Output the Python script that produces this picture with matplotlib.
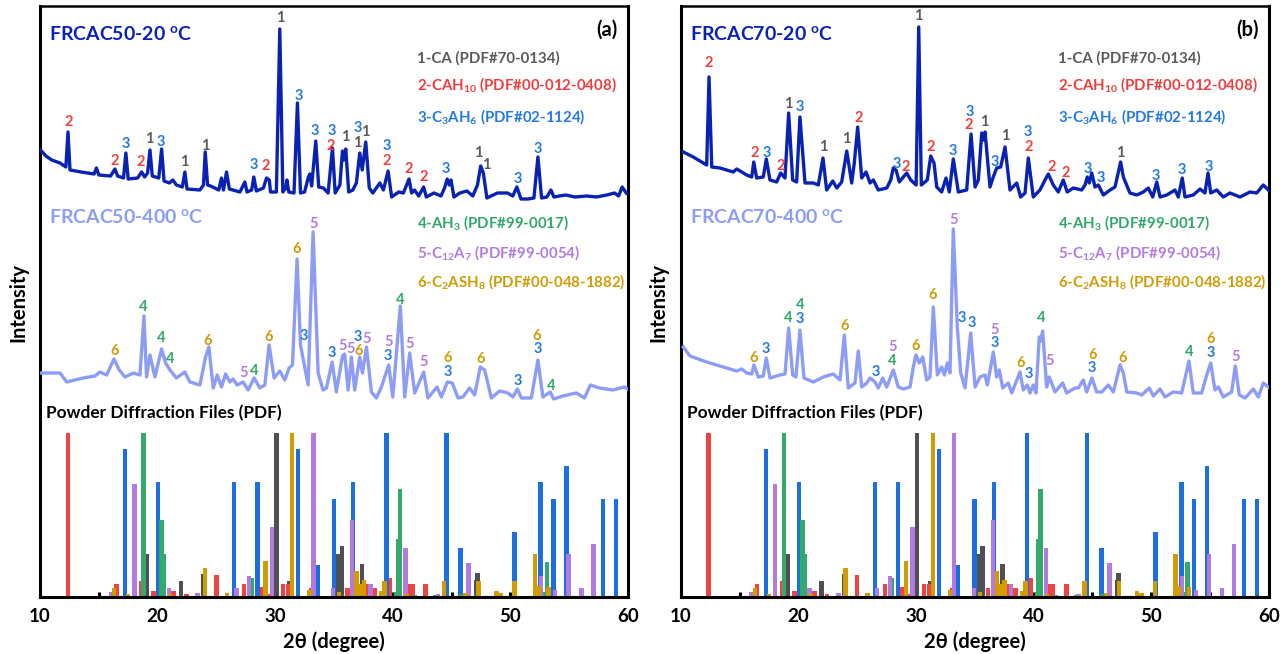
import numpy as np
import matplotlib
matplotlib.use("Agg")
import matplotlib.pyplot as plt

plt.rcParams['font.family'] = ['Lato', 'DejaVu Sans']
plt.rcParams['font.weight'] = 'bold'
plt.rcParams['mathtext.fontset'] = 'custom'
plt.rcParams['mathtext.rm'] = 'Lato:bold'
plt.rcParams['mathtext.it'] = 'Lato:bold'
plt.rcParams['mathtext.bf'] = 'Lato:bold'
plt.rcParams['mathtext.default'] = 'rm'

# ---------------- data: XRD patterns (intensity, arbitrary units) ----------------
a20_x = [10.05, 10.5, 11.0, 11.7, 12.2, 12.38, 12.55, 13.5, 14.6, 14.8,
         15.0, 16.0, 16.37, 16.6, 17.1, 17.3, 17.5, 18.3, 18.64, 18.9,
         19.15, 19.35, 19.55, 20.1, 20.34, 20.55, 21.0, 21.3, 21.6, 22.1,
         22.32, 22.5, 23.6, 23.9, 24.05, 24.25, 24.5, 25.2, 25.43, 25.6,
         25.86, 26.1, 27.0, 27.42, 27.6, 28.0, 28.18, 28.4, 29.0, 29.26,
         29.5, 29.6, 30.1, 30.39, 30.65, 30.9, 31.0, 31.15, 31.6, 31.89,
         32.15, 32.5, 32.8, 32.94, 33.1, 33.45, 33.7, 34.1, 34.5, 34.87,
         35.1, 35.5, 35.72, 35.85, 36.0, 36.25, 36.6, 36.9, 37.19, 37.4,
         37.7, 38.0, 38.3, 38.9, 39.2, 39.6, 39.9, 40.5, 40.9, 41.38,
         41.6, 41.85, 42.2, 42.62, 42.85, 43.5, 44.1, 44.4, 44.63, 44.8,
         44.95, 45.2, 45.7, 46.3, 46.8, 47.2, 47.47, 47.7, 48.0, 48.9,
         49.76, 50.2, 50.55, 50.9, 51.5, 52.0, 52.34, 52.65, 53.1, 53.45,
         53.7, 54.17, 54.7, 55.5, 56.5, 57.3, 58.2, 58.86, 59.2, 59.5,
         59.85]
a20_y = [47, 41, 37, 34, 30, 65, 27, 25, 23, 29,
         22, 21, 28, 21, 19, 44, 18, 19, 25, 20,
         24, 47, 21, 19, 48, 16, 14, 17, 12, 10,
         25, 8, 7, 12, 45, 12, 11, 7, 19, 7,
         25, 8, 5, 15, 5, 7, 20, 6, 9, 19,
         17, 5, 5, 168, 5, 9, 17, 5, 4, 94,
         4, 5, 19, 23, 11, 56, 10, 9, 4, 49,
         4, 12, 46, 37, 48, 5, 7, 14, 44, 27,
         55, 9, 4, 14, 7, 26, 0, 5, 4, 18,
         4, 7, 1, 10, 0, 4, 1, 9, 18, 12,
         17, 0, 4, 6, 1, 12, 31, 24, -1, 4,
         4, 1, 10, -2, -2, -1, 40, -1, 0, 7,
         0, 1, 2, 0, 1, 0, 2, 4, 1, 10,
         4]

a400_x = [10.14, 11.7, 12.27, 13.68, 14.67, 15.1, 15.67, 16.29, 16.74, 17.22,
          17.93, 18.5, 18.84, 19.06, 19.35, 19.77, 20.34, 20.68, 21.05, 21.6,
          22.32, 22.74, 23.6, 24.08, 24.36, 24.73, 25.07, 25.43, 25.78, 26.14,
          26.42, 26.76, 27.27, 27.7, 28.21, 28.69, 29.12, 29.48, 29.91, 30.39,
          30.82, 31.18, 31.47, 31.86, 32.15, 32.51, 32.8, 33.22, 33.65, 34.07,
          34.36, 34.84, 35.2, 35.72, 35.91, 36.2, 36.48, 36.76, 37.19, 37.42,
          37.76, 38.18, 38.6, 39.03, 39.65, 40.0, 40.64, 41.01, 41.44, 41.86,
          42.63, 42.99, 43.76, 44.13, 44.64, 45.06, 45.54, 45.96, 46.53, 46.96,
          47.44, 47.81, 48.38, 49.08, 49.79, 50.22, 50.59, 50.93, 51.78, 52.34,
          52.76, 53.39, 53.67, 54.46, 55.6, 56.3, 56.79, 57.58, 58.71, 59.7,
          59.95]
a400_y = [25, 25, 16, 20, 22, 26, 23, 39, 28, 21,
          25, 23, 82, 21, 43, 21, 49, 35, 28, 20,
          26, 16, 13, 41, 51, 10, 23, 11, 24, 16,
          19, 13, 16, 8, 20, 10, 13, 53, 20, 27,
          18, 30, 33, 139, 53, 31, 13, 166, 25, 8,
          10, 36, 6, 42, 44, 8, 41, 8, 41, 25,
          51, 6, 0, 11, 33, 1, 92, 1, 45, 5,
          26, 0, 11, 1, 16, 15, 0, 1, 10, 3,
          31, 28, 0, 7, 5, 1, 9, 0, 0, 38,
          1, 6, -1, 2, 5, 0, 13, 10, 8, 11,
          9]

b20_x = [10.22, 11.07, 11.92, 12.21, 12.41, 12.64, 13.34, 14.47, 14.76, 15.19,
         15.61, 16.04, 16.21, 16.46, 17.02, 17.28, 17.59, 18.16, 18.5, 18.87,
         19.18, 19.52, 19.86, 20.14, 20.57, 21.28, 21.7, 22.1, 22.41, 22.93,
         23.27, 23.69, 24.12, 24.54, 24.76, 25.05, 25.39, 25.76, 26.1, 26.38,
         26.8, 27.52, 27.86, 28.08, 28.31, 28.59, 28.93, 29.22, 29.56, 30.02,
         30.24, 30.46, 30.97, 31.26, 31.54, 31.77, 32.19, 32.56, 32.84, 33.18,
         33.61, 34.32, 34.69, 35.03, 35.31, 35.6, 35.73, 35.88, 36.3, 36.58,
         36.87, 37.21, 37.58, 38.0, 38.57, 38.91, 39.28, 39.56, 39.98, 40.55,
         40.98, 41.26, 41.68, 42.11, 42.53, 42.87, 43.38, 44.1, 44.38, 44.57,
         44.74, 44.95, 45.23, 45.51, 45.94, 46.51, 46.93, 47.41, 47.64, 48.2,
         48.78, 49.34, 49.76, 50.14, 50.48, 50.76, 51.33, 52.03, 52.31, 52.65,
         52.88, 53.59, 54.16, 54.58, 54.84, 55.07, 55.58, 56.14, 56.71, 57.56,
         58.41, 58.98, 59.54, 59.97]
b20_y = [45, 40, 34, 32, 120, 30, 29, 25, 28, 25,
         22, 20, 35, 19, 20, 38, 17, 15, 24, 19,
         84, 17, 15, 80, 14, 14, 12, 39, 7, 16,
         9, 15, 46, 14, 34, 70, 19, 25, 14, 17,
         7, 9, 17, 29, 27, 15, 20, 24, 17, 12,
         170, 12, 17, 41, 34, 10, 5, 19, 5, 38,
         5, 7, 63, 10, 17, 64, 57, 65, 10, 20,
         29, 30, 50, 7, 14, 0, 4, 39, 0, 7,
         17, 23, 12, 5, 17, 5, 9, 7, 12, 20,
         14, 24, 10, 12, 2, 7, 10, 35, 20, 4,
         2, 5, 9, 0, 15, 0, 2, 7, 0, 19,
         0, 2, 8, 4, 24, 4, 7, 0, 4, 0,
         5, 4, 12, 7]

b400_x = [10.22, 10.79, 12.21, 13.62, 14.76, 15.19, 15.61, 16.04, 16.23, 16.6,
          17.02, 17.28, 17.59, 18.44, 18.87, 19.18, 19.52, 19.8, 20.14, 20.48,
          21.28, 22.13, 22.98, 23.55, 23.91, 24.25, 24.82, 25.1, 25.39, 25.82,
          26.1, 26.52, 26.8, 27.18, 27.52, 28.08, 28.5, 28.93, 29.5, 29.78,
          30.01, 30.29, 30.58, 30.92, 31.2, 31.48, 31.82, 32.19, 32.42, 32.67,
          32.9, 33.18, 33.52, 33.81, 34.18, 34.66, 35.03, 35.45, 35.88, 36.07,
          36.36, 36.58, 36.87, 37.09, 37.38, 37.86, 38.15, 38.85, 39.13, 39.47,
          39.7, 39.98, 40.21, 40.49, 40.6, 40.78, 41.12, 41.34, 41.83, 42.48,
          42.82, 43.53, 43.81, 44.24, 44.52, 44.97, 45.37, 45.8, 46.36, 46.79,
          47.36, 47.64, 47.93, 48.78, 49.2, 49.85, 50.19, 50.76, 51.18, 51.89,
          52.6, 53.22, 53.59, 54.3, 54.73, 55.07, 55.43, 55.72, 56.14, 56.85,
          57.16, 57.5, 57.99, 58.69, 59.12, 59.54, 59.97]
b400_y = [51, 42, 36, 31, 27, 29, 25, 24, 33, 21,
          22, 40, 20, 23, 24, 70, 23, 21, 68, 20,
          16, 21, 24, 18, 63, 10, 15, 47, 11, 15,
          20, 16, 10, 20, 11, 28, 11, 9, 11, 31,
          43, 35, 41, 18, 21, 91, 23, 31, 23, 35,
          25, 169, 71, 25, 10, 65, 11, 21, 23, 13,
          31, 46, 21, 28, 10, 15, 5, 26, 8, 13,
          5, 13, 5, 61, 57, 67, 11, 21, 6, 15,
          5, 10, 10, 18, 6, 20, 6, 6, 13, 6,
          33, 25, 6, 5, 3, 10, 2, 9, 1, 6,
          5, 37, 5, 5, 23, 35, 8, 11, 1, 6,
          32, 3, 0, 9, 1, 15, 11]

# ---------------- data: reference powder diffraction files (relative intensity %) ----------------
pdf_CA_x = [19.09, 21.98, 23.88, 30.1, 31.21, 35.38, 35.68, 37.38, 47.1, 47.21]
pdf_CA_h = [26, 10, 14, 100, 9.5, 26, 31, 20, 10.6, 14.6]
pdf_CAH10_x = [12.38, 16.5, 18.64, 19.66, 21.36, 22.46, 25.0, 27.36, 28.83, 29.4,
               30.67, 31.13, 33.05, 36.14, 37.9, 38.46, 39.74, 41.44, 41.67, 42.8]
pdf_CAH10_h = [100, 8, 10, 3.5, 3.5, 1.6, 13.6, 8, 6, 2,
               8, 8, 5.5, 5.5, 8, 5.5, 11.6, 8, 8, 8]
pdf_C3AH6_x = [17.25, 20.05, 26.5, 28.5, 31.95, 33.59, 34.98, 36.62, 39.45, 44.55,
               45.77, 50.36, 52.57, 53.67, 54.77, 57.89, 58.99]
pdf_C3AH6_h = [90, 70, 70, 70, 90, 19.7, 60, 70, 100, 100,
               30, 39.6, 70, 60, 79.7, 60, 60]
pdf_AH3_x = [18.8, 20.34, 20.54, 27.98, 40.3, 40.44, 40.61, 41.86, 43.6, 45.82, 52.97, 53.1]
pdf_AH3_h = [100, 47, 26, 11.6, 3, 35.4, 65.9, 1.4, 1.2, 2, 3, 21.5]
pdf_C12A7_x = [16.03, 18.04, 20.96, 23.4, 26.7, 27.78, 29.71, 33.25, 34.92, 36.54,
               38.1, 41.07, 43.84, 46.45, 52.62, 53.81, 54.94, 56.05, 57.07]
pdf_C12A7_h = [3, 69, 5.3, 2.6, 5.5, 12.6, 42.7, 100, 5.5, 46.7,
               8, 30, 1.8, 20.7, 13, 4.5, 26, 5.5, 32.5]
pdf_C2ASH8_x = [16.3, 17.5, 21.04, 23.03, 24.02, 25.9, 29.17, 31.44, 32.9, 35.43,
                36.9, 37.27, 37.53, 39.03, 39.3, 41.15, 44.35, 46.17, 47.27, 48.8,
                49.17, 50.33, 52.08, 52.37, 53.22]
pdf_C2ASH8_h = [5.3, 1.6, 2, 0.6, 17.7, 2.2, 21.7, 100, 4.5, 3,
                15.6, 8.1, 10.6, 3.9, 9.5, 1.8, 9.5, 2.4, 9.5, 3.5,
                2.4, 9.5, 26, 7, 6]

# ---------------- data: peak labels (2theta, height, phase number) ----------------
a20_lab_x = [30.39, 32.0, 12.4, 17.3, 19.26, 20.25, 16.37, 18.55, 22.23, 24.05,
             28.18, 29.2, 33.39, 34.84, 34.73, 36.0, 36.99, 37.0, 37.67, 39.48,
             39.48, 41.35, 42.6, 44.55, 47.3, 47.95, 50.64, 52.34]
a20_lab_y = [579, 501, 475, 453, 458, 455, 436, 435, 435, 451,
             432, 431, 466, 466, 451, 460, 454, 469, 465, 451,
             436, 428, 420, 428, 444, 432, 418, 448]
a20_lab_t = ['1', '3', '2', '3', '1', '3', '2', '2', '1', '1',
             '3', '2', '3', '3', '2', '1', '1', '3', '1', '3',
             '2', '2', '2', '3', '1', '1', '3', '3']

a400_lab_x = [16.31, 18.78, 20.31, 21.05, 24.22, 27.27, 28.18, 29.48, 31.78, 32.43,
              33.28, 34.84, 35.72, 36.4, 37.13, 37.05, 37.81, 39.6, 39.6, 40.59,
              41.44, 42.62, 44.69, 44.69, 47.47, 50.64, 52.25, 52.34, 53.47]
a400_lab_y = [246, 290, 259, 238, 256, 224, 226, 260, 348, 261,
              373, 244, 251, 248, 246, 260, 258, 255, 241, 297,
              253, 235, 239, 225, 238, 216, 261, 248, 211]
a400_lab_t = ['6', '4', '4', '4', '6', '5', '4', '6', '6', '3',
              '5', '3', '5', '5', '6', '3', '5', '5', '3', '4',
              '5', '5', '6', '3', '6', '3', '6', '3', '4']

b20_lab_x = [12.41, 30.24, 16.26, 17.31, 18.5, 19.15, 20.14, 22.13, 24.12, 25.1,
             28.42, 29.16, 31.26, 33.18, 34.6, 34.52, 35.85, 36.73, 37.58, 39.56,
             39.56, 41.55, 42.74, 44.58, 45.71, 47.41, 50.42, 52.6, 54.87]
b20_lab_y = [534, 581, 444, 444, 431, 493, 490, 450, 458, 479,
             433, 430, 450, 446, 485, 472, 475, 435, 461, 465,
             450, 430, 424, 428, 419, 444, 421, 427, 430]
b20_lab_t = ['2', '1', '2', '3', '2', '1', '3', '1', '1', '2',
             '3', '2', '2', '3', '3', '2', '1', '3', '1', '3',
             '2', '2', '2', '3', '3', '1', '3', '3', '3']

b400_lab_x = [16.23, 17.28, 19.1, 20.14, 20.14, 23.97, 26.58, 27.99, 27.99, 29.95,
              31.43, 33.18, 33.89, 34.74, 36.67, 36.67, 38.94, 39.62, 40.61, 41.4,
              45.0, 45.0, 47.55, 53.22, 55.07, 55.07, 57.19]
b400_lab_y = [239, 248, 279, 278, 292, 271, 225, 250, 236, 251,
              302, 377, 279, 274, 267, 254, 234, 223, 279, 236,
              242, 229, 239, 245, 258, 244, 240]
b400_lab_t = ['6', '3', '4', '3', '4', '6', '3', '5', '4', '6',
              '6', '5', '3', '3', '5', '3', '6', '3', '4', '5',
              '6', '3', '6', '4', '6', '3', '5']

legend_top = ['1-CA (PDF#70-0134)', '2-CAH$_{10}$ (PDF#00-012-0408)', '3-C$_3$AH$_6$ (PDF#02-1124)']
legend_mid = ['4-AH$_3$ (PDF#99-0017)', '5-C$_{12}$A$_7$ (PDF#99-0054)', '6-C$_2$ASH$_8$ (PDF#00-048-1882)']
x_ticks = [10, 20, 30, 40, 50, 60]

# ---------------- styling ----------------
C_DARK = '#0a22b4'
C_LIGHT = '#8d9df7'
PHASE_COL = {'1': '#5a5a5a', '2': '#f03e3e', '3': '#2479e0', '4': '#30a86a',
             '5': '#b27be0', '6': '#d19b05'}
BAR_COL = {'1': '#505050', '2': '#f04444', '3': '#1b6fe0', '4': '#34a96c',
           '5': '#b27be2', '6': '#d29c00'}
OFF_TOP = 400
OFF_MID = 199
BAR_SCALE = 1.64

pdf_sets = [('1', pdf_CA_x, pdf_CA_h), ('2', pdf_CAH10_x, pdf_CAH10_h),
            ('3', pdf_C3AH6_x, pdf_C3AH6_h), ('4', pdf_AH3_x, pdf_AH3_h),
            ('5', pdf_C12A7_x, pdf_C12A7_h), ('6', pdf_C2ASH8_x, pdf_C2ASH8_h)]

W, H = 1288, 654
fig = plt.figure(figsize=(W / 100, H / 100), dpi=100)

panels = [
    dict(left=40, name20='FRCAC50-20 $^{o}$C', name400='FRCAC50-400 $^{o}$C', tag='(a)',
         c20=(a20_x, a20_y), c400=(a400_x, a400_y),
         l20=(a20_lab_x, a20_lab_y, a20_lab_t), l400=(a400_lab_x, a400_lab_y, a400_lab_t)),
    dict(left=680.7, name20='FRCAC70-20 $^{o}$C', name400='FRCAC70-400 $^{o}$C', tag='(b)',
         c20=(b20_x, b20_y), c400=(b400_x, b400_y),
         l20=(b20_lab_x, b20_lab_y, b20_lab_t), l400=(b400_lab_x, b400_lab_y, b400_lab_t)),
]

ax_w = 588
ax_top, ax_bot = 6, 597
for p in panels:
    ax = fig.add_axes([p['left'] / W, (H - ax_bot) / H, ax_w / W, (ax_bot - ax_top) / H])
    ax.set_xlim(10, 60)
    ax.set_ylim(0, ax_bot - ax_top)

    # stick patterns
    for ph, xs, hs in pdf_sets:
        ax.bar(xs, np.array(hs) * BAR_SCALE, width=0.38, color=BAR_COL[ph],
               linewidth=0, zorder=2)

    # measured patterns
    x, y = p['c20']
    ax.plot(x, np.array(y) + OFF_TOP, color=C_DARK, lw=2.4, zorder=3,
            solid_joinstyle='round')
    x, y = p['c400']
    ax.plot(x, np.array(y) + OFF_MID, color=C_LIGHT, lw=2.4, zorder=3,
            solid_joinstyle='round')

    # peak labels
    for lx, ly, lt in (p['l20'], p['l400']):
        for xx, yy, tt in zip(lx, ly, lt):
            ax.text(xx, yy, tt, color=PHASE_COL[tt], fontsize=10.5, fontweight='bold',
                    ha='center', va='center', zorder=4)

    # sample names
    ax.text(10.8, 563, p['name20'], color=C_DARK, fontsize=14, fontweight='bold',
            ha='left', va='center')
    ax.text(10.8, 380, p['name400'], color=C_LIGHT, fontsize=14, fontweight='bold',
            ha='left', va='center')
    ax.text(10.5, 184, 'Powder Diffraction Files (PDF)', color='black', fontsize=12.4,
            fontweight='bold', ha='left', va='center')
    ax.text(58.2, 567, p['tag'], color='black', fontsize=14.5, fontweight='bold',
            ha='center', va='center')

    # legends
    for i, (t, ph) in enumerate(zip(legend_top, ['1', '2', '3'])):
        ax.text(42.1, [539, 512, 480][i], t, color=PHASE_COL[ph], fontsize=10.8,
                fontweight='bold', ha='left', va='center')
    for i, (t, ph) in enumerate(zip(legend_mid, ['4', '5', '6'])):
        ax.text(42.1, [374, 344, 315][i], t, color=PHASE_COL[ph], fontsize=10.8,
                fontweight='bold', ha='left', va='center')

    # axes styling
    ax.set_yticks([])
    ax.set_xticks(x_ticks)
    ax.set_xticks([15, 25, 35, 45, 55], minor=True)
    ax.tick_params(axis='x', which='both', direction='in', length=3.5, width=2.2,
                   labelsize=13.5, pad=8, top=False)
    for lab in ax.get_xticklabels():
        lab.set_fontweight('bold')
    for s in ['left', 'bottom', 'right']:
        ax.spines[s].set_linewidth(2.2)
    ax.spines['top'].set_linewidth(1.8)
    ax.text(0.5, -(641.7 - ax_bot) / (ax_bot - ax_top), '2θ (degree)', transform=ax.transAxes,
            fontsize=14.5, fontweight='bold', ha='center', va='center')
    fig.text((p['left'] - 22) / W, (H - 302) / H, 'Intensity', rotation=90, fontsize=14.5,
             fontweight='bold', ha='center', va='center')

fig.savefig('out.png', dpi=100)
